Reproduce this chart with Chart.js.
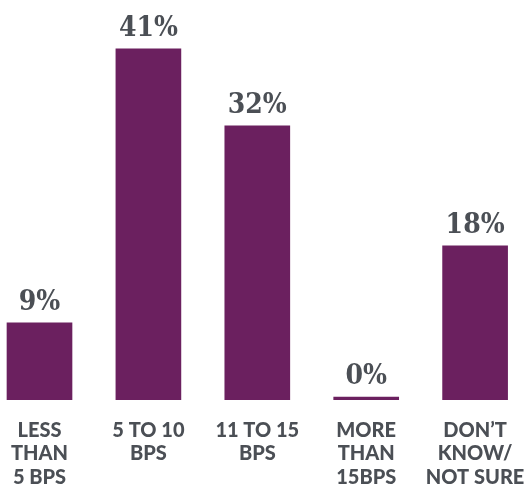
<!DOCTYPE html>
<html>
<head>
<meta charset="utf-8">
<script src="https://cdn.jsdelivr.net/npm/chart.js@4"></script>
<style>
  html, body { margin: 0; padding: 0; background: #fff; }
  .chart-wrap { position: relative; width: 524px; height: 487px; }
</style>
</head>
<body>
<div class="chart-wrap"><canvas id="bps-chart"></canvas></div>
<script>
// Survey answers, one bar per bucket
const categories = [
  ['LESS', 'THAN', '5 BPS'],
  ['5 TO 10', 'BPS'],
  ['11 TO 15', 'BPS'],
  ['MORE', 'THAN', '15BPS'],
  ['DON\u2019T', 'KNOW/', 'NOT SURE']
];
const percents = [9, 41, 32, 0, 18];

const BAR_COLOR = '#6b205f';
const TEXT_COLOR = '#4b4f55';

// Percent labels above each bar
const valueLabels = {
  id: 'valueLabels',
  afterDatasetsDraw(chart) {
    const ctx = chart.ctx;
    const meta = chart.getDatasetMeta(0);
    ctx.save();
    ctx.font = 'bold 28px "DejaVu Serif Condensed", "DejaVu Serif", serif';
    ctx.fillStyle = TEXT_COLOR;
    ctx.textAlign = 'center';
    ctx.textBaseline = 'alphabetic';
    meta.data.forEach((bar, i) => {
      ctx.fillText(percents[i] + '%', bar.x, bar.y - 13);
    });
    ctx.restore();
  }
};

const el = document.getElementById('bps-chart');
new Chart(el, {
  type: 'bar',
  data: {
    datasets: [{
      data: percents.map((v, i) => ({ x: i, y: v })),
      backgroundColor: BAR_COLOR,
      borderWidth: 0,
      barThickness: 65,
      minBarLength: 3
    }]
  },
  options: {
    responsive: true,
    maintainAspectRatio: false,
    animation: false,
    layout: { padding: 0 },
    plugins: {
      legend: { display: false },
      tooltip: { enabled: false }
    },
    scales: {
      x: {
        type: 'linear',
        offset: false,
        min: -0.3627,
        max: 4.449,
        grid: { display: false, drawTicks: false },
        border: { display: false },
        afterBuildTicks: (scale) => {
          scale.ticks = categories.map((c, i) => ({ value: i }));
        },
        afterFit: (scale) => {
          // labels sit well inside the edges, no side padding needed
          scale.height = 87;
          scale.paddingLeft = 0;
          scale.paddingRight = 0;
        },
        ticks: {
          autoSkip: false,
          maxRotation: 0,
          padding: 19,
          color: TEXT_COLOR,
          font: { family: 'Lato', weight: 900, size: 20, lineHeight: 1.165 },
          callback: (value) => categories[value]
        }
      },
      y: {
        display: false,
        min: 0,
        max: 46.7
      }
    }
  },
  plugins: [valueLabels]
});
</script>
</body>
</html>
